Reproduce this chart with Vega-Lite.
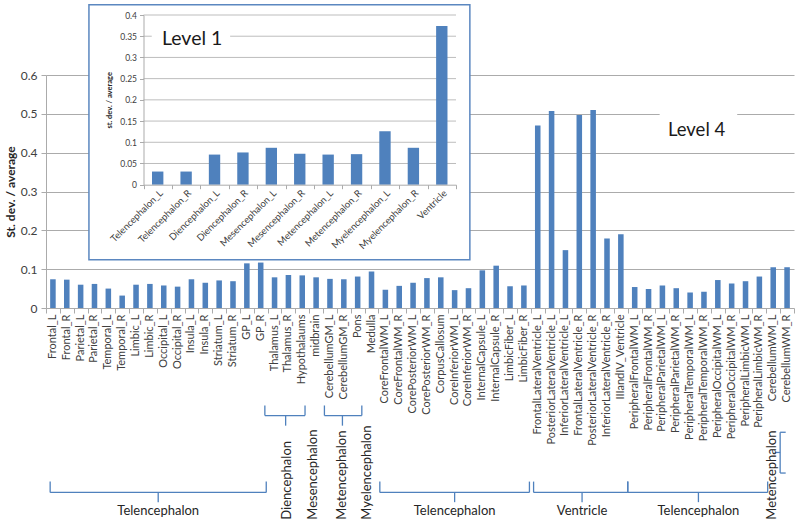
{
  "$schema": "https://vega.github.io/schema/vega-lite/v6.json",
  "width": 748,
  "height": 233,
  "autosize": {"type": "none"},
  "padding": {"left": 46, "top": 75, "right": 6, "bottom": 222},
  "background": "white",
  "config": {
    "view": {"stroke": null},
    "font": "Lato",
    "axis": {"labelFont": "Lato", "titleFont": "Lato"},
    "text": {"font": "Lato"}
  },
  "datasets": {
    "level4": [
      {"region": "Frontal_L", "value": 0.074},
      {"region": "Frontal_R", "value": 0.073},
      {"region": "Parietal_L", "value": 0.060},
      {"region": "Parietal_R", "value": 0.062},
      {"region": "Temporal_L", "value": 0.050},
      {"region": "Temporal_R", "value": 0.032},
      {"region": "Limbic_L", "value": 0.060},
      {"region": "Limbic_R", "value": 0.062},
      {"region": "Occipital_L", "value": 0.058},
      {"region": "Occipital_R", "value": 0.055},
      {"region": "Insula_L", "value": 0.074},
      {"region": "Insula_R", "value": 0.065},
      {"region": "Striatum_L", "value": 0.071},
      {"region": "Striatum_R", "value": 0.069},
      {"region": "GP_L", "value": 0.115},
      {"region": "GP_R", "value": 0.117},
      {"region": "Thalamus_L", "value": 0.079},
      {"region": "Thalamus_R", "value": 0.085},
      {"region": "Hypothalaums", "value": 0.084},
      {"region": "midbrain", "value": 0.079},
      {"region": "CerebellumGM_L", "value": 0.075},
      {"region": "CerebellumGM_R", "value": 0.074},
      {"region": "Pons", "value": 0.081},
      {"region": "Medulla", "value": 0.094},
      {"region": "CoreFrontalWM_L", "value": 0.047},
      {"region": "CoreFrontalWM_R", "value": 0.057},
      {"region": "CorePosteriorWM_L", "value": 0.065},
      {"region": "CorePosteriorWM_R", "value": 0.077},
      {"region": "CorpusCallosum", "value": 0.079},
      {"region": "CoreInferiorWM_L", "value": 0.046},
      {"region": "CoreInferiorWM_R", "value": 0.051},
      {"region": "InternalCapsule_L", "value": 0.097},
      {"region": "InternalCapsule_R", "value": 0.109},
      {"region": "LimbicFiber_L", "value": 0.056},
      {"region": "LimbicFiber_R", "value": 0.058},
      {"region": "FrontalLateralVentricle_L", "value": 0.470},
      {"region": "PosteriorLateralVentricle_L", "value": 0.507},
      {"region": "InferiorLateralVentricle_L", "value": 0.149},
      {"region": "FrontalLateralVentricle_R", "value": 0.497},
      {"region": "PosteriorLateralVentricle_R", "value": 0.510},
      {"region": "InferiorLateralVentricle_R", "value": 0.179},
      {"region": "IIIandIV_Ventricle", "value": 0.190},
      {"region": "PeripheralFrontalWM_L", "value": 0.054},
      {"region": "PeripheralFrontalWM_R", "value": 0.049},
      {"region": "PeripheralParietalWM_L", "value": 0.058},
      {"region": "PeripheralParietalWM_R", "value": 0.051},
      {"region": "PeripheralTemporalWM_L", "value": 0.040},
      {"region": "PeripheralTemporalWM_R", "value": 0.042},
      {"region": "PeripheralOccipitalWM_L", "value": 0.072},
      {"region": "PeripheralOccipitalWM_R", "value": 0.063},
      {"region": "PeripheralLimbicWM_L", "value": 0.069},
      {"region": "PeripheralLimbicWM_R", "value": 0.081},
      {"region": "CerebellumWM_L", "value": 0.105},
      {"region": "CerebellumWM_R", "value": 0.105}
    ],
    "level1": [
      {"region": "Telencephalon_L", "value": 0.031},
      {"region": "Telencephalon_R", "value": 0.031},
      {"region": "Diencephalon_L", "value": 0.071},
      {"region": "Diencephalon_R", "value": 0.076},
      {"region": "Mesencephalon_L", "value": 0.087},
      {"region": "Mesencephalon_R", "value": 0.073},
      {"region": "Metencephalon_L", "value": 0.071},
      {"region": "Metencephalon_R", "value": 0.072},
      {"region": "Myelencephalon_L", "value": 0.126},
      {"region": "Myelencephalon_R", "value": 0.087},
      {"region": "Ventricle", "value": 0.374}
    ],
    "brackets": [
      {"group": "Telencephalon", "tier": "lower", "start": 0.3, "end": 15.9, "mid": 8.1},
      {"group": "Telencephalon", "tier": "lower", "start": 24.1, "end": 34.9, "mid": 29.5},
      {"group": "Ventricle", "tier": "lower", "start": 35.2, "end": 42.0, "mid": 38.7},
      {"group": "Telencephalon", "tier": "lower", "start": 42.0, "end": 52.1, "mid": 47.1},
      {"group": "Diencephalon", "tier": "upper", "start": 15.8, "end": 18.7, "mid": 17.3},
      {"group": "Metencephalon", "tier": "upper", "start": 20.1, "end": 22.8, "mid": 21.4}
    ],
    "vlabels": [
      {"group": "Diencephalon", "pos": 17.4},
      {"group": "Mesencephalon", "pos": 19.3},
      {"group": "Metencephalon", "pos": 21.4},
      {"group": "Myelencephalon", "pos": 23.2},
      {"group": "Metencephalon", "pos": 52.4}
    ],
    "insetgrid": [
      {"v": 0.05}, {"v": 0.1}, {"v": 0.15}, {"v": 0.2},
      {"v": 0.25}, {"v": 0.3}, {"v": 0.35}, {"v": 0.4}
    ],
    "one": [{}]
  },
  "layer": [
    {
      "data": {"name": "level4"},
      "mark": {"type": "bar", "color": "#4F81BD"},
      "encoding": {
        "x": {
          "field": "region", "type": "nominal", "sort": null,
          "scale": {"paddingInner": 0.6, "paddingOuter": 0.3},
          "axis": {"orient": "bottom", "title": null, "labelAngle": -90, "labelFontSize": 11, "labelColor": "#404040", "ticks": false, "domain": false, "grid": false, "labelPadding": 6, "labelOverlap": false}
        },
        "y": {
          "field": "value", "type": "quantitative",
          "scale": {"domain": [0, 0.6], "nice": false},
          "axis": {"orient": "left", "values": [0, 0.1, 0.2, 0.3, 0.4, 0.5, 0.6], "format": "~g", "title": "St. dev. / average", "titleFontWeight": "bold", "titleFontSize": 12, "titleColor": "#262626", "titlePadding": 3, "grid": true, "gridColor": "#ABABAB", "domainColor": "#ABABAB", "tickColor": "#ABABAB", "tickSize": 5, "labelFontSize": 12, "labelColor": "#404040", "labelPadding": 4}
        }
      }
    },
    {
      "data": {"name": "one"},
      "mark": {"type": "rect", "fill": "white", "stroke": "#5B87C0", "strokeWidth": 1.5},
      "encoding": {
        "x": {"datum": 3.1, "type": "quantitative", "scale": {"domain": [0, 54], "nice": false, "zero": false},
          "axis": {"orient": "bottom", "values": [0,1,2,3,4,5,6,7,8,9,10,11,12,13,14,15,16,17,18,19,20,21,22,23,24,25,26,27,28,29,30,31,32,33,34,35,36,37,38,39,40,41,42,43,44,45,46,47,48,49,50,51,52,53,54], "labels": false, "domain": false, "grid": false, "ticks": true, "tickSize": 5, "tickColor": "#ABABAB", "title": null}},
        "x2": {"datum": 30.6},
        "y": {"datum": 0.781, "type": "quantitative", "scale": {"domain": [0, 0.6], "nice": false}, "axis": null},
        "y2": {"datum": 0.124}
      }
    },
    {
      "data": {"name": "one"},
      "mark": {"type": "rect", "fill": "white"},
      "encoding": {
        "x": {"datum": 44.3, "type": "quantitative", "scale": {"domain": [0, 54], "nice": false, "zero": false}, "axis": null},
        "x2": {"datum": 49.9},
        "y": {"datum": 0.485, "type": "quantitative", "scale": {"domain": [0, 0.6], "nice": false}, "axis": null},
        "y2": {"datum": 0.515}
      }
    },
    {
      "data": {"values": [{"label": "Level 4"}]},
      "mark": {"type": "text", "fontSize": 18.5, "align": "left", "baseline": "middle", "color": "#1A1A1A"},
      "encoding": {
        "x": {"datum": 44.9, "type": "quantitative", "scale": {"domain": [0, 54], "nice": false, "zero": false}, "axis": null},
        "y": {"datum": 0.458, "type": "quantitative", "scale": {"domain": [0, 0.6], "nice": false}, "axis": null},
        "text": {"field": "label"}
      }
    },
    {
      "data": {"name": "brackets"},
      "transform": [{"filter": "datum.tier == 'lower'"}],
      "mark": {"type": "rule", "color": "#4F81BD", "strokeWidth": 1.3},
      "encoding": {
        "x": {"field": "start", "type": "quantitative", "scale": {"domain": [0, 54], "nice": false, "zero": false}, "axis": null},
        "x2": {"field": "end"},
        "y": {"datum": -0.475, "type": "quantitative", "scale": {"domain": [0, 0.6], "nice": false}, "axis": null}
      }
    },
    {
      "data": {"name": "brackets"},
      "transform": [{"filter": "datum.tier == 'lower'"}],
      "mark": {"type": "rule", "color": "#4F81BD", "strokeWidth": 1.3},
      "encoding": {
        "x": {"field": "start", "type": "quantitative", "scale": {"domain": [0, 54], "nice": false, "zero": false}, "axis": null},
        "y": {"datum": -0.475, "type": "quantitative", "scale": {"domain": [0, 0.6], "nice": false}, "axis": null},
        "y2": {"datum": -0.447}
      }
    },
    {
      "data": {"name": "brackets"},
      "transform": [{"filter": "datum.tier == 'lower'"}],
      "mark": {"type": "rule", "color": "#4F81BD", "strokeWidth": 1.3},
      "encoding": {
        "x": {"field": "end", "type": "quantitative", "scale": {"domain": [0, 54], "nice": false, "zero": false}, "axis": null},
        "y": {"datum": -0.475, "type": "quantitative", "scale": {"domain": [0, 0.6], "nice": false}, "axis": null},
        "y2": {"datum": -0.447}
      }
    },
    {
      "data": {"name": "brackets"},
      "transform": [{"filter": "datum.tier == 'lower'"}],
      "mark": {"type": "rule", "color": "#4F81BD", "strokeWidth": 1.3},
      "encoding": {
        "x": {"field": "mid", "type": "quantitative", "scale": {"domain": [0, 54], "nice": false, "zero": false}, "axis": null},
        "y": {"datum": -0.475, "type": "quantitative", "scale": {"domain": [0, 0.6], "nice": false}, "axis": null},
        "y2": {"datum": -0.5}
      }
    },
    {
      "data": {"name": "brackets"},
      "transform": [{"filter": "datum.tier == 'lower'"}],
      "mark": {"type": "text", "fontSize": 13, "align": "center", "baseline": "middle", "color": "#262626"},
      "encoding": {
        "x": {"field": "mid", "type": "quantitative", "scale": {"domain": [0, 54], "nice": false, "zero": false}, "axis": null},
        "y": {"datum": -0.522, "type": "quantitative", "scale": {"domain": [0, 0.6], "nice": false}, "axis": null},
        "text": {"field": "group"}
      }
    },
    {
      "data": {"name": "brackets"},
      "transform": [{"filter": "datum.tier == 'upper'"}],
      "mark": {"type": "rule", "color": "#4F81BD", "strokeWidth": 1.3},
      "encoding": {
        "x": {"field": "start", "type": "quantitative", "scale": {"domain": [0, 54], "nice": false, "zero": false}, "axis": null},
        "x2": {"field": "end"},
        "y": {"datum": -0.277, "type": "quantitative", "scale": {"domain": [0, 0.6], "nice": false}, "axis": null}
      }
    },
    {
      "data": {"name": "brackets"},
      "transform": [{"filter": "datum.tier == 'upper'"}],
      "mark": {"type": "rule", "color": "#4F81BD", "strokeWidth": 1.3},
      "encoding": {
        "x": {"field": "start", "type": "quantitative", "scale": {"domain": [0, 54], "nice": false, "zero": false}, "axis": null},
        "y": {"datum": -0.277, "type": "quantitative", "scale": {"domain": [0, 0.6], "nice": false}, "axis": null},
        "y2": {"datum": -0.251}
      }
    },
    {
      "data": {"name": "brackets"},
      "transform": [{"filter": "datum.tier == 'upper'"}],
      "mark": {"type": "rule", "color": "#4F81BD", "strokeWidth": 1.3},
      "encoding": {
        "x": {"field": "end", "type": "quantitative", "scale": {"domain": [0, 54], "nice": false, "zero": false}, "axis": null},
        "y": {"datum": -0.277, "type": "quantitative", "scale": {"domain": [0, 0.6], "nice": false}, "axis": null},
        "y2": {"datum": -0.251}
      }
    },
    {
      "data": {"name": "brackets"},
      "transform": [{"filter": "datum.tier == 'upper'"}],
      "mark": {"type": "rule", "color": "#4F81BD", "strokeWidth": 1.3},
      "encoding": {
        "x": {"field": "mid", "type": "quantitative", "scale": {"domain": [0, 54], "nice": false, "zero": false}, "axis": null},
        "y": {"datum": -0.277, "type": "quantitative", "scale": {"domain": [0, 0.6], "nice": false}, "axis": null},
        "y2": {"datum": -0.303}
      }
    },
    {
      "data": {"name": "one"},
      "mark": {"type": "rule", "color": "#4F81BD", "strokeWidth": 1.3},
      "encoding": {
        "x": {"datum": 53.0, "type": "quantitative", "scale": {"domain": [0, 54], "nice": false, "zero": false}, "axis": null},
        "y": {"datum": -0.32, "type": "quantitative", "scale": {"domain": [0, 0.6], "nice": false}, "axis": null},
        "y2": {"datum": -0.425}
      }
    },
    {
      "data": {"name": "one"},
      "mark": {"type": "rule", "color": "#4F81BD", "strokeWidth": 1.3},
      "encoding": {
        "x": {"datum": 53.0, "type": "quantitative", "scale": {"domain": [0, 54], "nice": false, "zero": false}, "axis": null},
        "x2": {"datum": 53.4},
        "y": {"datum": -0.32, "type": "quantitative", "scale": {"domain": [0, 0.6], "nice": false}, "axis": null}
      }
    },
    {
      "data": {"name": "one"},
      "mark": {"type": "rule", "color": "#4F81BD", "strokeWidth": 1.3},
      "encoding": {
        "x": {"datum": 53.0, "type": "quantitative", "scale": {"domain": [0, 54], "nice": false, "zero": false}, "axis": null},
        "x2": {"datum": 53.4},
        "y": {"datum": -0.425, "type": "quantitative", "scale": {"domain": [0, 0.6], "nice": false}, "axis": null}
      }
    },
    {
      "data": {"name": "one"},
      "mark": {"type": "rule", "color": "#4F81BD", "strokeWidth": 1.3},
      "encoding": {
        "x": {"datum": 52.6, "type": "quantitative", "scale": {"domain": [0, 54], "nice": false, "zero": false}, "axis": null},
        "x2": {"datum": 53.0},
        "y": {"datum": -0.372, "type": "quantitative", "scale": {"domain": [0, 0.6], "nice": false}, "axis": null}
      }
    },
    {
      "data": {"name": "vlabels"},
      "mark": {"type": "text", "fontSize": 13, "angle": 270, "align": "left", "baseline": "middle", "color": "#262626"},
      "encoding": {
        "x": {"field": "pos", "type": "quantitative", "scale": {"domain": [0, 54], "nice": false, "zero": false}, "axis": null},
        "y": {"datum": -0.545, "type": "quantitative", "scale": {"domain": [0, 0.6], "nice": false}, "axis": null},
        "text": {"field": "group"}
      }
    },
    {
      "data": {"name": "insetgrid"},
      "mark": {"type": "rule", "color": "#BDBDBD", "strokeWidth": 1},
      "encoding": {
        "x": {"datum": 0, "type": "quantitative", "scale": {"domain": [0, 11], "range": [97.5, 410], "nice": false, "zero": false},
          "axis": {"orient": "bottom", "offset": -123.3, "values": [0,1,2,3,4,5,6,7,8,9,10,11], "labels": false, "domain": false, "grid": false, "ticks": true, "tickSize": 4, "tickColor": "#ABABAB", "title": null, "zindex": 1}},
        "x2": {"datum": 11},
        "y": {"field": "v", "type": "quantitative", "scale": {"domain": [0, 0.4], "range": [109.7, -60], "nice": false}, "axis": null}
      }
    },
    {
      "data": {"name": "one"},
      "mark": {"type": "rect", "fill": "white"},
      "encoding": {
        "x": {"datum": 0.29, "type": "quantitative", "scale": {"domain": [0, 11], "range": [97.5, 410], "nice": false, "zero": false}, "axis": null},
        "x2": {"datum": 3.05},
        "y": {"datum": 0.33, "type": "quantitative", "scale": {"domain": [0, 0.4], "range": [109.7, -60], "nice": false}, "axis": null},
        "y2": {"datum": 0.37}
      }
    },
    {
      "data": {"values": [{"label": "Level 1"}]},
      "mark": {"type": "text", "fontSize": 19.5, "align": "left", "baseline": "middle", "color": "#1A1A1A"},
      "encoding": {
        "x": {"datum": 0.65, "type": "quantitative", "scale": {"domain": [0, 11], "range": [97.5, 410], "nice": false, "zero": false}, "axis": null},
        "y": {"datum": 0.344, "type": "quantitative", "scale": {"domain": [0, 0.4], "range": [109.7, -60], "nice": false}, "axis": null},
        "text": {"field": "label"}
      }
    },
    {
      "data": {"name": "level1"},
      "mark": {"type": "bar", "color": "#4F81BD"},
      "encoding": {
        "x": {
          "field": "region", "type": "nominal", "sort": null,
          "scale": {"range": [97.5, 410], "paddingInner": 0.6, "paddingOuter": 0.3},
          "axis": {"orient": "bottom", "offset": -123.3, "title": null, "labelAngle": -45, "labelFontSize": 9.5, "labelColor": "#404040", "ticks": false, "domain": true, "domainColor": "#ABABAB", "grid": false, "labelOverlap": false, "labelPadding": 3, "zindex": 1}
        },
        "y": {
          "field": "value", "type": "quantitative",
          "scale": {"domain": [0, 0.4], "range": [109.7, -60], "nice": false},
          "axis": {"orient": "left", "offset": -97.5, "values": [0, 0.05, 0.1, 0.15, 0.2, 0.25, 0.3, 0.35, 0.4], "format": "~g", "grid": false, "title": "st. dev. / average", "titleFontSize": 7.5, "titleFontWeight": "bold", "titleColor": "#262626", "titlePadding": 6, "labelFontSize": 8.5, "labelColor": "#404040", "tickSize": 4, "tickColor": "#ABABAB", "domainColor": "#ABABAB", "labelPadding": 3, "zindex": 1}
        }
      }
    }
  ],
  "resolve": {
    "scale": {"x": "independent", "y": "independent"},
    "axis": {"x": "independent", "y": "independent"}
  }
}
